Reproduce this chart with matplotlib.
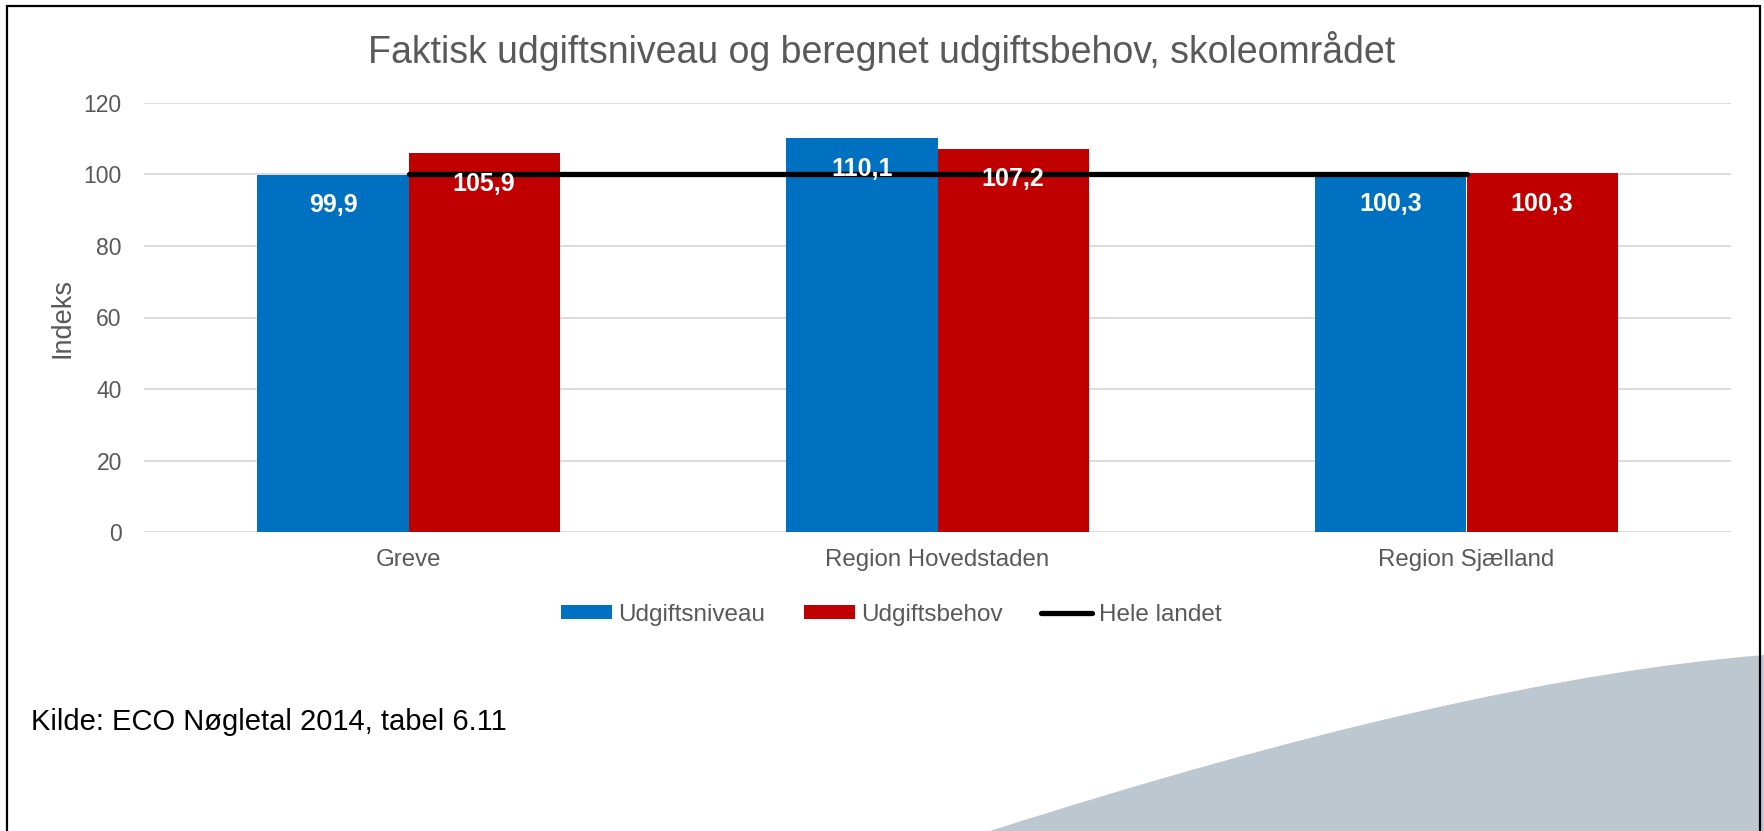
import numpy as np
import matplotlib
matplotlib.use("Agg")
import matplotlib.pyplot as plt
from matplotlib.patches import PathPatch, Rectangle
from matplotlib.path import Path

plt.rcParams['font.family'] = ['Liberation Sans', 'DejaVu Sans']

# data
categories = ['Greve', 'Region Hovedstaden', 'Region Sjælland']
udgiftsniveau = [99.9, 110.1, 100.3]
udgiftsbehov = [105.9, 107.2, 100.3]
hele_landet = [100, 100, 100]
y_ticks = [0, 20, 40, 60, 80, 100, 120]

BLUE = '#0070C0'
RED = '#C00000'
GREY_TXT = '#595959'

W, H = 1764, 831
fig = plt.figure(figsize=(W / 100, H / 100), dpi=100)


# pixel coords -> figure fraction
def fx(px):
    return px / W


def fy(py):
    return 1 - py / H


# decorative shape bottom right
verts = [(fx(990), fy(831)), (fx(1465), fy(679)), (fx(1764), fy(655)),
         (fx(1764), fy(831)), (fx(990), fy(831))]
codes = [Path.MOVETO, Path.CURVE3, Path.CURVE3, Path.LINETO, Path.CLOSEPOLY]
fig.patches.append(PathPatch(Path(verts, codes), facecolor='#BDC7D0',
                             edgecolor='none', transform=fig.transFigure, zorder=0))

# frame
fig.patches.append(Rectangle((fx(7), fy(840)), fx(1760) - fx(7), fy(6) - fy(840),
                             fill=False, edgecolor='black', linewidth=1.6,
                             transform=fig.transFigure, zorder=5))

ax = fig.add_axes([fx(144), fy(532.3), fx(1731) - fx(144), fy(102.7) - fy(532.3)])
ax.set_facecolor('none')

x = np.arange(len(categories))
bw = 0.2855
b1 = ax.bar(x - bw / 2, udgiftsniveau, bw, color=BLUE, label='Udgiftsniveau', zorder=2)
b2 = ax.bar(x + bw / 2, udgiftsbehov, bw, color=RED, label='Udgiftsbehov', zorder=2)
ln, = ax.plot(x, hele_landet, color='black', linewidth=3.8, solid_capstyle='round',
              label='Hele landet', zorder=3)

for bars, vals in [(b1, udgiftsniveau), (b2, udgiftsbehov)]:
    for rect, v in zip(bars, vals):
        ax.annotate(f'{v:.1f}'.replace('.', ','),
                    (rect.get_x() + rect.get_width() / 2, v),
                    xytext=(0, -22), textcoords='offset points',
                    ha='center', va='center', color='white',
                    fontsize=18, fontweight='bold', zorder=4)

ax.set_xlim(-0.5, 2.5)
ax.set_ylim(0, 120)
ax.set_yticks(y_ticks)
ax.set_xticks(x)
ax.set_xticklabels(categories)
ax.grid(axis='y', color='#D9D9D9', linewidth=1.3, zorder=0)
ax.set_axisbelow(True)
for s in ax.spines.values():
    s.set_visible(False)
ax.tick_params(axis='both', length=0, colors=GREY_TXT)
ax.tick_params(axis='y', pad=16, labelsize=16.5)
ax.tick_params(axis='x', pad=12, labelsize=17.3)
ax.set_ylabel('Indeks', fontsize=19.5, color=GREY_TXT, labelpad=6)

fig.text(fx(882), fy(63), 'Faktisk udgiftsniveau og beregnet udgiftsbehov, skoleområdet',
         ha='center', va='baseline', fontsize=27, color=GREY_TXT)

fig.legend(handles=[b1, b2, ln], loc='center', bbox_to_anchor=(fx(891), fy(615)),
           ncol=3, frameon=False, fontsize=17.5, labelcolor=GREY_TXT,
           handlelength=2.1, handleheight=0.5, handletextpad=0.25, columnspacing=1.6)

fig.text(fx(31), fy(730), 'Kilde: ECO Nøgletal 2014, tabel 6.11',
         ha='left', va='baseline', fontsize=21, color='black')

fig.savefig('out.png', dpi=100)
